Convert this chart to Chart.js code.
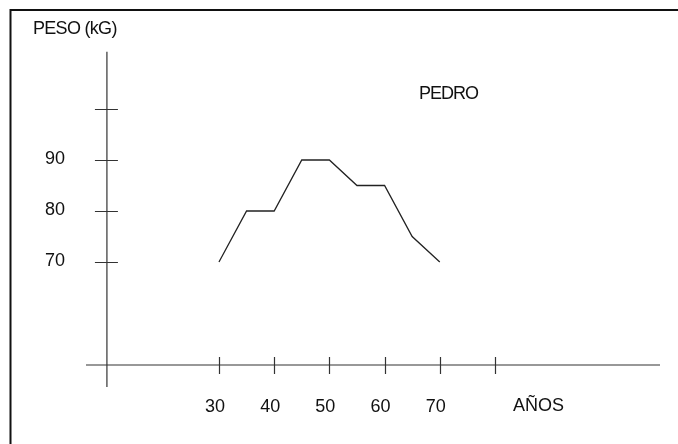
<!DOCTYPE html>
<html>
<head>
<meta charset="utf-8">
<script src="https://cdn.jsdelivr.net/npm/chart.js@4.4.1/dist/chart.umd.min.js"></script>
<style>
  html, body { margin: 0; padding: 0; background: #fff; }
  #wrap { position: relative; width: 678px; height: 444px; }
</style>
</head>
<body>
<div id="wrap"><canvas id="pesoChart"></canvas></div>
<script>
// data
const years = [30, 35, 40, 45, 50, 55, 60, 65, 70];
const weights = [70, 80, 80, 90, 90, 85, 85, 75, 70];
const xTicks = [30, 40, 50, 60, 70, 80];
const xTickLabels = ["30", "40", "50", "60", "70"];
const yTicks = [70, 80, 90, 100];
const yTickLabels = ["70", "80", "90"];
const seriesName = "PEDRO";
const yTitle = "PESO (kG)";
const xTitle = "AÑOS";

// hand drawn axes: cross at these values
const axisCross = { x: 9.7, y: 49.8 };
const xAxisRange = [5.9, 109.9];
const yAxisRange = [45.5, 111.2];

const handAxes = {
  id: "handAxes",
  afterDatasetsDraw(chart) {
    const ctx = chart.ctx;
    const xs = chart.scales.x;
    const ys = chart.scales.y;
    const x0 = xs.getPixelForValue(axisCross.x);
    const y0 = ys.getPixelForValue(axisCross.y);
    ctx.save();

    // frame (only top and left show)
    ctx.strokeStyle = "#111";
    ctx.lineWidth = 2;
    ctx.beginPath();
    ctx.moveTo(10.5, 444);
    ctx.lineTo(10.5, 10);
    ctx.lineTo(678, 10);
    ctx.stroke();

    ctx.strokeStyle = "#333";
    ctx.lineWidth = 1.2;
    ctx.beginPath();
    ctx.moveTo(xs.getPixelForValue(xAxisRange[0]), y0);
    ctx.lineTo(xs.getPixelForValue(xAxisRange[1]), y0);
    ctx.moveTo(x0, ys.getPixelForValue(yAxisRange[0]));
    ctx.lineTo(x0, ys.getPixelForValue(yAxisRange[1]));
    xTicks.forEach((t) => {
      const px = Math.round(xs.getPixelForValue(t)) + 0.5;
      ctx.moveTo(px, y0 - 8);
      ctx.lineTo(px, y0 + 9);
    });
    yTicks.forEach((t) => {
      const py = Math.round(ys.getPixelForValue(t)) + 0.5;
      ctx.moveTo(x0 - 12, py);
      ctx.lineTo(x0 + 11, py);
    });
    ctx.stroke();

    ctx.fillStyle = "#111";
    ctx.font = "18px 'Liberation Sans', Arial, sans-serif";
    ctx.textAlign = "center";
    ctx.textBaseline = "middle";
    xTickLabels.forEach((lab, i) => {
      ctx.fillText(lab, xs.getPixelForValue(xTicks[i]) - 4, y0 + 42);
    });
    yTickLabels.forEach((lab, i) => {
      ctx.fillText(lab, 55, ys.getPixelForValue(yTicks[i]) - 1);
    });

    ctx.textAlign = "left";
    ctx.letterSpacing = "-0.7px";
    ctx.fillText(yTitle, 33, 29);
    ctx.letterSpacing = "-1px";
    ctx.fillText(seriesName, 419, 94);
    ctx.letterSpacing = "0px";
    ctx.fillText(xTitle, 513, 406);
    ctx.restore();
  }
};

const ctx = document.getElementById("pesoChart").getContext("2d");
new Chart(ctx, {
  type: "line",
  data: {
    datasets: [{
      label: seriesName,
      data: years.map((y, i) => ({ x: y, y: weights[i] })),
      borderColor: "#222",
      borderWidth: 1.3,
      pointRadius: 0,
      tension: 0,
      fill: false
    }]
  },
  options: {
    responsive: true,
    maintainAspectRatio: false,
    animation: false,
    layout: { padding: 0 },
    plugins: { legend: { display: false }, tooltip: { enabled: false } },
    scales: {
      x: { type: "linear", min: -9.67, max: 113.16, display: false },
      y: { type: "linear", min: 34.31, max: 121.37, display: false }
    }
  },
  plugins: [handAxes]
});
</script>
</body>
</html>
